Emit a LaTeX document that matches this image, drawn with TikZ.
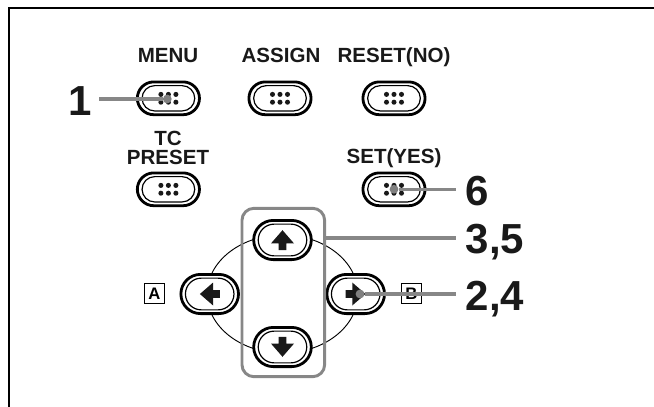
\documentclass[tikz,border=0pt]{standalone}
\usepackage{fontspec}
\setmainfont{Liberation Sans}
\usetikzlibrary{positioning,shapes.misc,calc}

\tikzset{
  keyouter/.style={rounded rectangle,draw,fill=white,line width=2.1pt,inner sep=0pt,minimum width=46.6pt,minimum height=24.6pt},
  keyinner/.style={rounded rectangle,draw,fill=white,line width=.9pt,inner sep=0pt,minimum width=39.5pt,minimum height=19pt},
  padouter/.style={keyouter,minimum width=43.2pt,minimum height=29.4pt},
  padinner/.style={keyinner,minimum width=36.4pt,minimum height=23.8pt},
  keylabel/.style={anchor=base,inner sep=0pt,font=\bfseries\fontsize{15.4}{15.4}\selectfont,text=black!90},
  steplabel/.style={anchor=base west,inner sep=0pt,font=\bfseries\fontsize{31.5}{31.5}\selectfont,text=black!90},
  sidebox/.style={draw,line width=.7pt,inner sep=0pt,minimum size=15.4pt,font=\bfseries\fontsize{12.5}{12.5}\selectfont},
  leader/.style={draw=black!47,line width=2.3pt},
  leaderdot/.style={circle,fill=black!50,inner sep=0pt,minimum size=6.6pt}
}
\newcommand{\keydots}[1]{\foreach \dx in {-7.5,0,7.5} \foreach \dy in {-3.9,3.9} \fill[black!90] ($(#1)+(\dx,\dy)$) circle (1.9pt);}
\newcommand{\padarrow}[2]{\fill[black!90,shift={(#1)},rotate=#2] (0,-9.8) -- (11.5,3.4) -- (3.9,3.4) -- (3.9,10.2) -- (-3.9,10.2) -- (-3.9,3.4) -- (-11.5,3.4) -- cycle;}

\begin{document}
\begin{tikzpicture}[x=0.75pt,y=0.75pt,yscale=-1,xscale=1]
\useasboundingbox (0,0) rectangle (654,407);

%Frame, top and left only
\draw [line width=1.5pt] (654,8) -- (9,8) -- (9,407);

%Ring behind the pad keys
\draw [line width=.7pt] (282.5,294) ellipse (75.4 and 59);

%Upper keys
\node [keyouter] (menu) at (168.4,98.3) {};
\node [keyinner] (menuin) at (menu) {};
\node [keyouter] (assign) at (280,98.3) {};
\node [keyinner] (assignin) at (assign) {};
\node [keyouter] (reset) at (394,98.3) {};
\node [keyinner] (resetin) at (reset) {};
\node [keyouter] (preset) at (168.4,189.3) {};
\node [keyinner] (presetin) at (preset) {};
\node [keyouter] (set) at (394,189.3) {};
\node [keyinner] (setin) at (set) {};
\keydots{menu}
\keydots{assign}
\keydots{reset}
\keydots{preset}
\keydots{set}

%Pad keys
\node [padouter] (up) at (282.5,240) {};
\node [padinner] (upin) at (up) {};
\node [padouter] (down) at (282.5,347) {};
\node [padinner] (downin) at (down) {};
\node [padouter] (left) at (209.7,294) {};
\node [padinner] (leftin) at (left) {};
\node [padouter] (right) at (355.7,294) {};
\node [padinner] (rightin) at (right) {};
\padarrow{up}{0}
\padarrow{right}{90}
\padarrow{down}{180}
\padarrow{left}{270}

% Text Node
\node [keylabel] (menutxt) at (168,62.7) {MENU};
\node [keylabel] (assigntxt) at (281,62.7) {ASSIGN};
\node [keylabel] (resettxt) at (394,62.7) {RESET(NO)};
\node [keylabel] (tctxt) at (168,145) {TC};
\node [keylabel] (presettxt) at (168,164) {PRESET};
\node [keylabel] (settxt) at (394,163) {SET(YES)};
\node [sidebox] (boxa) at (154.5,293.5) {A};
\node [sidebox] (boxb) at (411.5,293.5) {B};

% Step numbers
\node [steplabel] (stepa) at (68,115) {1};
\node [steplabel] (stepf) at (465.5,205) {6};
\node [steplabel] (stepc) at (465.5,253.5) {3,5};
\node [steplabel] (stepb) at (465.5,310) {2,4};

%Grey box round the up and down keys
\node [draw=black!47,line width=2.2pt,rounded corners=9pt,inner sep=0pt,minimum width=62pt,minimum height=126.3pt] (updown) at (283.3,292.5) {};

%Leaders
\node [leaderdot] (menudot) at (167.3,99) {};
\node [leaderdot] (setdot) at (394,189.3) {};
\node [leaderdot] (rightdot) at (360,294) {};
\coordinate (menuend) at (99,99);
\coordinate (setend) at (456,189.3);
\coordinate (upend) at (456,238);
\coordinate (rightend) at (456,294);
\draw [leader] (menuend) -- (menudot);
\draw [leader] (setdot) -- (setend);
\draw [leader] (updown.east |- upend) -- (upend);
\draw [leader] (rightdot) -- (rightend);

\end{tikzpicture}
\end{document}
